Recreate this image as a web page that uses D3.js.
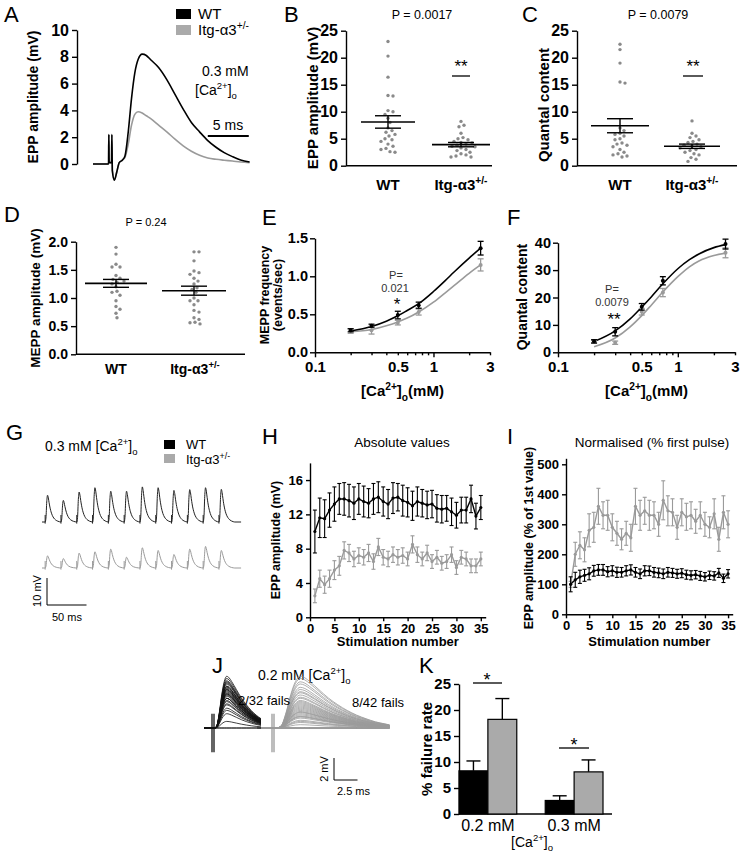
<!DOCTYPE html>
<html><head><meta charset="utf-8">
<script src="https://cdn.jsdelivr.net/npm/d3@7"></script>
<style>
body{margin:0;background:#fff}
svg{display:block}
text{font-family:"Liberation Sans",Arial,Helvetica,sans-serif}
</style></head>
<body><svg id="c" width="741" height="855"></svg>
<script>
// ================= DATA =================
const GROUPS = ["WT", "Itg-α3+/-"];
// A: example EPP traces (time ms, mV)
const A_WT_T = [0,1.9,1.93,1.97,2.26,2.3,2.36,2.6,2.9,3.2,3.6,3.9,4.3,4.7,5.1,5.5,6.0,6.5,7,8,9,10,11,12,13,14,15,16,17,18,19.1];
const A_WT_V = [0,0,2.2,0.1,0.1,2.2,-0.5,-1.2,-0.6,0.1,0.3,0.6,2.4,4.9,6.8,7.8,8.2,8.1,7.8,7.2,6.3,5.2,4.1,3.1,2.4,1.75,1.25,0.85,0.55,0.3,0.15];
const A_KO_T = [0,1.9,1.93,1.97,2.26,2.3,2.36,2.6,2.9,3.2,3.6,3.9,4.3,4.7,5.1,5.5,6.0,6.5,7,8,9,10,11,12,13,14,15,16,17,18,19.1];
const A_KO_V = [0,0,2.2,0.1,0.1,2.2,-0.5,-1.2,-0.6,0.1,0.3,0.5,1.5,2.9,3.7,3.9,3.8,3.6,3.4,2.9,2.4,1.85,1.35,0.95,0.65,0.45,0.35,0.28,0.22,0.15,0.1];
const A_TICKS = [0,2,4,6,8,10];
// B: EPP amplitude (mV)
const B_WT = [23.0,20.3,16.4,13.0,12.9,10.2,10.0,9.5,8.8,8.0,7.0,6.5,6.2,5.8,5.5,5.0,4.8,4.5,4.0,3.6,3.2,3.0,2.6,2.5];
const B_KO = [8.2,7.5,7.2,6.0,5.2,5.0,4.8,4.5,4.3,4.2,4.0,3.8,3.6,3.5,3.3,3.0,2.8,2.5,2.2,2.0,1.8,1.6,1.6];
const B_MEAN = [8.1,3.9], B_SEM = [1.15,0.4];
const BC_TICKS = [0,5,10,15,20,25];
// C: quantal content
const C_WT = [22.5,21.5,19.0,15.5,15.3,7.0,6.5,6.0,5.8,5.5,5.0,4.8,4.2,4.0,3.8,3.5,3.0,2.5,2.2,2.0,1.8,1.6];
const C_KO = [8.3,6.0,5.5,5.2,4.8,4.5,4.3,4.0,3.8,3.6,3.5,3.3,3.0,2.8,2.5,2.2,2.0,1.5,1.2,0.8];
const C_MEAN = [7.4,3.6], C_SEM = [1.3,0.4];
// D: MEPP amplitude (mV)
const D_WT = [1.9,1.78,1.6,1.55,1.55,1.4,1.35,1.33,1.3,1.28,1.25,1.2,1.12,1.1,1.05,0.95,0.85,0.8,0.73,0.65];
const D_KO = [1.82,1.82,1.66,1.48,1.45,1.42,1.35,1.3,1.25,1.18,1.15,1.1,1.0,0.95,0.95,0.88,0.78,0.75,0.65,0.62,0.57,0.56,0.54];
const D_MEAN = [1.26,1.13], D_SEM = [0.07,0.08];
const D_TICKS = [0,0.5,1,1.5,2];
// E/F: calcium dependence
const CA = [0.2,0.3,0.5,0.75,2.5];
const E_WT = [0.29,0.35,0.49,0.62,1.37], E_WT_ERR = [0.02,0.02,0.05,0.04,0.09];
const E_KO = [0.28,0.29,0.39,0.53,1.15], E_KO_ERR = [0.03,0.05,0.03,0.04,0.08];
const FIT_CA = [0.2,0.3,0.4,0.5,0.6,0.75,1.0,1.25,1.5,2.0,2.5];
const E_FIT_WT = [0.28,0.34,0.41,0.48,0.55,0.64,0.80,0.94,1.06,1.24,1.37];
const E_FIT_KO = [0.27,0.30,0.35,0.40,0.45,0.53,0.66,0.78,0.88,1.04,1.15];
const F_WT = [4.0,7.5,16.6,26.1,39.5], F_WT_ERR = [0.6,1.5,1.2,1.5,1.8];
const F_KO = [3.8,3.5,14.8,21.8,36.3], F_KO_ERR = [0.5,0.6,1.2,1.5,1.8];
const F_FIT_WT = [3.9,7.8,12.2,16.5,20.2,25.0,30.5,33.8,35.9,38.2,39.3];
const F_FIT_KO = [2.0,5.2,9.3,13.4,17.2,22.0,27.6,31.2,33.3,35.3,36.2];
const LOG_MAJOR = [0.1,0.5,1,3], LOG_MINOR = [0.2,0.3,0.4,0.6,0.7,0.8,0.9,2];
// G: trains (mV per pulse) + EPP shape
const G_WT_AMP = [9.9,8.0,11.1,12.7,11.4,11.4,13.0,12.7,11.7,12.0,12.7,12.1];
const G_KO_AMP = [4.5,3.5,5.5,6.0,7.0,4.0,7.5,6.5,5.0,7.0,8.0,6.5];
const G_SHAPE_T = [0,1,2,3,4,5,6,7,8,9,10,12,14,16,18,20];
const G_SHAPE_V = [0,0.15,0.75,1.0,0.9,0.72,0.56,0.43,0.33,0.25,0.19,0.11,0.06,0.03,0.01,0];
// H/I: 35 pulses
const STIM = d3.range(1,36);
const H_WT = [10.0,11.6,11.5,12.5,13.2,13.8,13.8,13.6,13.3,13.8,13.5,13.3,13.8,14.0,13.5,13.2,13.9,14.0,13.6,13.4,13.0,13.5,13.3,13.1,13.2,12.7,12.6,12.7,12.3,11.9,12.5,12.5,13.8,11.8,12.8];
const H_WT_ERR = [2.5,2.3,2.2,2.0,2.0,1.8,1.9,1.9,1.9,1.8,1.8,1.7,1.8,1.8,1.7,1.7,1.8,1.6,1.8,1.7,1.7,1.7,1.6,1.6,1.6,1.6,1.6,1.5,1.6,1.5,1.5,1.5,1.6,1.5,1.4];
const H_KO = [2.5,4.5,3.8,4.5,5.5,6.0,7.8,7.5,6.8,7.2,7.0,7.5,6.5,8.2,7.0,6.8,7.3,7.0,7.2,6.8,8.5,7.3,6.8,7.5,6.5,7.0,6.3,6.5,7.3,5.8,7.0,6.8,6.0,6.0,6.8];
const H_KO_ERR = [0.8,1.0,1.0,1.0,1.1,1.1,1.0,1.0,0.9,0.9,0.9,1.0,0.9,1.0,0.9,0.9,0.9,0.9,0.9,0.8,1.0,0.9,0.8,0.9,0.8,0.8,0.8,0.8,0.9,0.8,0.8,0.8,0.8,0.8,0.8];
const I_WT = [100,115,125,130,135,145,148,148,142,145,140,140,145,148,140,135,145,145,140,138,135,140,138,135,137,132,130,132,128,125,130,128,138,120,135];
const I_WT_ERR = [25,25,22,20,20,18,18,18,17,17,17,16,17,17,16,16,17,16,16,16,16,16,15,15,15,15,15,14,15,14,14,14,15,14,14];
const I_KO = [100,200,230,215,280,290,360,330,330,290,270,250,270,255,360,330,345,330,330,300,380,345,340,290,340,325,330,310,330,300,290,335,250,340,300];
const I_KO_ERR = [10,40,45,40,55,50,60,45,50,45,40,35,40,45,60,50,45,50,45,40,65,50,45,40,45,45,45,40,45,40,35,50,40,55,45];
const H_TICKS = [0,4,8,12,16], I_TICKS = [0,100,200,300,400,500], STIM_TICKS = [0,5,10,15,20,25,30,35];
// J: superimposed traces (mV)
const J_SHAPE_T = [-1.5,0,0.5,1.0,1.5,2.0,2.5,3.0,3.5,4,5,6,7,8,9,10,11,12,12.5];
const J_SHAPE_V = [0,0,0,0.05,0.3,0.65,0.9,1.0,0.97,0.9,0.74,0.58,0.45,0.34,0.25,0.18,0.12,0.08,0.06];
const J_WT_AMP = [0,0,0.6,1.3,1.6,1.8,2.1,2.2,2.4,2.5,2.7,2.7,2.7,2.9,3.0,3.1,3.1,3.2,3.3,3.4,3.5,3.5,3.6,3.7,3.8,3.8,4.0,4.1,4.2,4.3,4.5,4.7];
const J_KO_AMP = [0,0,0,0,0,0,0,0,0.3,0.5,0.6,0.7,0.9,1.0,1.05,1.1,1.2,1.3,1.4,1.45,1.5,1.6,1.7,1.8,1.9,2.0,2.1,2.2,2.3,2.4,2.5,2.7,2.8,3.0,3.2,3.3,3.5,3.7,4.0,4.2,4.5,4.7];
// K: failure rate
const K_CA = ["0.2 mM","0.3 mM"];
const K_WT = [8.3,2.6], K_WT_ERR = [1.9,0.9];
const K_KO = [18.2,8.1], K_KO_ERR = [4.0,2.3];
const K_TICKS = [0,5,10,15,20,25];

// ================= DRAWING =================
const BLACK = "#000", GREY = "#9a9a9a", GREY_FILL = "#aaaaaa", DOT = "#8a8a8a";
const svg = d3.select("#c");
svg.append("rect").attr("width",741).attr("height",855).attr("fill","#fff");

function rich(parent,x,y,parts,o={}){
  const size=o.size||13;
  const t=parent.append("text").attr("font-size",size).attr("font-weight",o.weight||"normal")
    .attr("text-anchor",o.anchor||"start").attr("fill",o.fill||"#000");
  if(o.rotate) t.attr("transform",`translate(${x},${y}) rotate(${o.rotate})`); else t.attr("x",x).attr("y",y);
  let cur=0;
  parts.forEach(p=>{
    const s=typeof p==="string"?p:p[0], k=(typeof p==="string"?"n":(p[1]||"n"));
    const off=k==="sup"?-size*0.4:k==="sub"?size*0.3:0;
    t.append("tspan").attr("dy",off-cur).attr("font-size",k==="n"?size:size*0.68).text(s);
    cur=off;
  });
  return t;
}
function txt(x,y,s,o={}){ return rich(svg,x,y,[s],o); }
const ITG = [["Itg-α3"],["+/-","sup"]];
const CAO = [["[Ca"],["2+","sup"],["]"],["o","sub"]];

function styleAxis(a,size){
  a.attr("font-family",null).attr("font-size",null);
  a.select(".domain").attr("stroke","#000").attr("stroke-width",1.4);
  a.selectAll(".tick line").attr("stroke","#000").attr("stroke-width",1.4);
  a.selectAll(".tick text").attr("font-size",size).attr("font-weight","bold").attr("fill","#000");
}
function yAxis(scale,x,ticks,fmt,size,len=5,pad=3){
  const a=svg.append("g").attr("transform",`translate(${x},0)`)
    .call(d3.axisLeft(scale).tickValues(ticks).tickFormat(fmt).tickSize(len).tickSizeOuter(0).tickPadding(pad));
  styleAxis(a,size); return a;
}
function xLine(x1,x2,y){ svg.append("line").attr("x1",x1).attr("x2",x2).attr("y1",y).attr("y2",y).attr("stroke","#000").attr("stroke-width",1.4); }
function seg(x1,y1,x2,y2,c="#000",w=1.4){ svg.append("line").attr("x1",x1).attr("y1",y1).attr("x2",x2).attr("y2",y2).attr("stroke",c).attr("stroke-width",w); }

// ---------- A ----------
txt(4,22,"A",{size:22});
const aY=d3.scaleLinear().domain([0,10]).range([164,30]);
const aX=d3.scaleLinear().domain([0,19.1]).range([93,249.6]);
yAxis(aY,77,A_TICKS,d3.format("d"),16);
txt(38,97,"EPP amplitude (mV)",{size:14,weight:"bold",anchor:"middle",rotate:-90});
const aLine=d3.line().x(d=>aX(d[0])).y(d=>aY(d[1])).curve(d3.curveMonotoneX);
svg.append("path").attr("d",aLine(d3.zip(A_KO_T,A_KO_V))).attr("fill","none").attr("stroke",GREY).attr("stroke-width",1.6);
svg.append("path").attr("d",aLine(d3.zip(A_WT_T,A_WT_V))).attr("fill","none").attr("stroke",BLACK).attr("stroke-width",1.6);
seg(aX(14),136,aX(19),136,"#000",2);
txt(228,130,"5 ms",{size:14,anchor:"middle"});
txt(202,76,"0.3 mM",{size:14});
rich(svg,195,95,CAO,{size:14});
svg.append("rect").attr("x",176).attr("y",9).attr("width",15).attr("height",10).attr("fill",BLACK);
svg.append("rect").attr("x",176).attr("y",25).attr("width",15).attr("height",10).attr("fill",GREY_FILL);
txt(198,19,GROUPS[0],{size:15});
rich(svg,198,35,ITG,{size:15});

// ---------- scatter helper ----------
function scatterPanel(yS,centers,vals,means,sems,half,cap){
  vals.forEach((arr,gi)=>{
    const pts=arr.map(v=>({v,y:yS(v)})).sort((a,b)=>a.y-b.y), placed=[], D=4.6;
    pts.forEach(p=>{
      for(let k=0;k<80;k++){
        const off=k===0?0:(k%2?1:-1)*Math.ceil(k/2)*1;
        const x=centers[gi]+off;
        if(placed.every(q=>(q.x-x)**2+(q.y-p.y)**2>=D*D)){p.x=x;break;}
      }
      placed.push(p);
    });
    svg.append("g").selectAll("circle").data(placed).join("circle")
      .attr("cx",d=>d.x).attr("cy",d=>d.y).attr("r",1.7).attr("fill",DOT);
    const c=centers[gi];
    seg(c-half[gi],yS(means[gi]),c+half[gi],yS(means[gi]),"#000",1.6);
    seg(c,yS(means[gi]-sems[gi]),c,yS(means[gi]+sems[gi]),"#000",1.4);
    seg(c-cap,yS(means[gi]-sems[gi]),c+cap,yS(means[gi]-sems[gi]),"#000",1.4);
    seg(c-cap,yS(means[gi]+sems[gi]),c+cap,yS(means[gi]+sems[gi]),"#000",1.4);
  });
}

// ---------- B ----------
txt(284,22,"B",{size:22});
const bY=d3.scaleLinear().domain([0,25]).range([165.7,30.7]);
yAxis(bY,346,BC_TICKS,d3.format("d"),16);
xLine(346,492,165.7);
scatterPanel(bY,[388,461],[B_WT,B_KO],B_MEAN,B_SEM,[27,29],13);
txt(388,190,GROUPS[0],{size:15,weight:"bold",anchor:"middle"});
rich(svg,461,190,ITG,{size:15,weight:"bold",anchor:"middle"});
txt(422,19,"P = 0.0017",{size:12.5,anchor:"middle"});
txt(461,72,"**",{size:17,anchor:"middle"});
seg(452,76,470,76,"#000",1.3);
txt(318,98,"EPP amplitude (mV)",{size:15,weight:"bold",anchor:"middle",rotate:-90});

// ---------- C ----------
txt(522,22,"C",{size:22});
const cY=d3.scaleLinear().domain([0,25]).range([165.7,30.7]);
yAxis(cY,577,BC_TICKS,d3.format("d"),16);
xLine(577,737,165.7);
scatterPanel(cY,[620,692],[C_WT,C_KO],C_MEAN,C_SEM,[29,28],13);
txt(620,190,GROUPS[0],{size:15,weight:"bold",anchor:"middle"});
rich(svg,692,190,ITG,{size:15,weight:"bold",anchor:"middle"});
txt(658,19,"P = 0.0079",{size:12.5,anchor:"middle"});
txt(693,72,"**",{size:17,anchor:"middle"});
seg(683,76,703,76,"#000",1.3);
txt(549,105,"Quantal content",{size:15,weight:"bold",anchor:"middle",rotate:-90});

// ---------- D ----------
txt(4,222,"D",{size:22});
const dY=d3.scaleLinear().domain([0,2]).range([354.3,241.7]);
yAxis(dY,76,D_TICKS,d3.format(".1f"),14);
xLine(76,245,354.3);
scatterPanel(dY,[116,194],[D_WT,D_KO],D_MEAN,D_SEM,[31,32],13);
txt(116,374,GROUPS[0],{size:14,weight:"bold",anchor:"middle"});
rich(svg,195,374,ITG,{size:14,weight:"bold",anchor:"middle"});
txt(146,226,"P = 0.24",{size:11,anchor:"middle"});
txt(40,298,"MEPP amplitude (mV)",{size:13.5,weight:"bold",anchor:"middle",rotate:-90});

// ---------- E / F helper ----------
function caPanel(o){
  const yS=d3.scaleLinear().domain(o.ydom).range(o.yr);
  const xS=d3.scaleLog().domain([0.1,3]).range(o.xr);
  yAxis(yS,o.xr[0],o.yticks,o.yfmt,14.5,5,2);
  const all=LOG_MAJOR.concat(LOG_MINOR).sort((a,b)=>a-b);
  const ax=svg.append("g").attr("transform",`translate(0,${o.yr[0]})`)
    .call(d3.axisBottom(xS).tickValues(all).tickFormat(d=>LOG_MAJOR.includes(d)?String(d):"").tickSize(5).tickSizeOuter(0).tickPadding(4));
  styleAxis(ax,15);
  ax.selectAll(".tick line").attr("y2",d=>(d===0.1||d===1)?5:3);
  const ln=d3.line().x(d=>xS(d[0])).y(d=>yS(d[1])).curve(d3.curveMonotoneX);
  [[o.fitKO,GREY],[o.fitWT,BLACK]].forEach(([f,c])=>{
    svg.append("path").attr("d",ln(d3.zip(FIT_CA,f))).attr("fill","none").attr("stroke",c).attr("stroke-width",1.6);
  });
  [[o.ko,o.koErr,GREY],[o.wt,o.wtErr,BLACK]].forEach(([v,e,c])=>{
    CA.forEach((ca,i)=>{
      const x=xS(ca);
      seg(x,yS(v[i]-e[i]),x,yS(v[i]+e[i]),c,1.3);
      seg(x-3,yS(v[i]-e[i]),x+3,yS(v[i]-e[i]),c,1.3);
      seg(x-3,yS(v[i]+e[i]),x+3,yS(v[i]+e[i]),c,1.3);
      svg.append("circle").attr("cx",x).attr("cy",yS(v[i])).attr("r",2).attr("fill",c);
    });
  });
  rich(svg,(o.xr[0]+o.xr[1])/2,396,CAO.concat([["(mM)"]]),{size:15,weight:"bold",anchor:"middle"});
  return {xS,yS};
}
// ---------- E ----------
txt(262,225,"E",{size:22});
caPanel({ydom:[0,1.5],yr:[352.3,238.3],xr:[315,490],yticks:[0,0.5,1,1.5],yfmt:d3.format(".1f"),
  wt:E_WT,wtErr:E_WT_ERR,ko:E_KO,koErr:E_KO_ERR,fitWT:E_FIT_WT,fitKO:E_FIT_KO});
txt(269,295,"MEPP frequency",{size:12.5,weight:"bold",anchor:"middle",rotate:-90});
txt(282,295,"(events/sec)",{size:12.5,weight:"bold",anchor:"middle",rotate:-90});
txt(396,279,"P=",{size:11,anchor:"middle",fill:"#333"});
txt(395,292,"0.021",{size:11,anchor:"middle",fill:"#333"});
txt(397,310,"*",{size:17,anchor:"middle"});
// ---------- F ----------
txt(507,225,"F",{size:22});
caPanel({ydom:[0,40],yr:[352.3,242.7],xr:[558,735],yticks:[0,10,20,30,40],yfmt:d3.format("d"),
  wt:F_WT,wtErr:F_WT_ERR,ko:F_KO,koErr:F_KO_ERR,fitWT:F_FIT_WT,fitKO:F_FIT_KO});
txt(527,297,"Quantal content",{size:14,weight:"bold",anchor:"middle",rotate:-90});
txt(612,293,"P=",{size:11,anchor:"middle",fill:"#333"});
txt(612,306,"0.0079",{size:11,anchor:"middle",fill:"#333"});
txt(614,325,"**",{size:17,anchor:"middle"});

// ---------- G ----------
txt(6,440,"G",{size:22});
rich(svg,45,451,[["0.3 mM "]].concat(CAO),{size:14});
svg.append("rect").attr("x",164).attr("y",440).attr("width",11).attr("height",9).attr("fill",BLACK);
svg.append("rect").attr("x",164).attr("y",454).attr("width",11).attr("height",9).attr("fill",GREY_FILL);
txt(186,449,GROUPS[0],{size:13});
rich(svg,186,464,ITG,{size:13});
const gX=d3.scaleLinear().domain([0,252]).range([42,42+252*0.79]);
function gTrace(amps,base,color){
  const gY=d3.scaleLinear().domain([0,10]).range([base,base-27]);
  const pts=[[0,0]];
  amps.forEach((a,i)=>{const s=4+20*i; G_SHAPE_T.forEach((t,k)=>{ if(k>0||i===0) pts.push([s+t,a*G_SHAPE_V[k]]); });});
  pts.push([252,0]);
  svg.append("path").attr("d",d3.line().x(d=>gX(d[0])).y(d=>gY(d[1])).curve(d3.curveMonotoneX)(pts))
    .attr("fill","none").attr("stroke",color).attr("stroke-width",1);
  amps.forEach((a,i)=>{const x=gX(4+20*i); seg(x,gY(-0.6),x,gY(2.6),color,1);});
  return gY;
}
gTrace(G_WT_AMP,522,"#222");
gTrace(G_KO_AMP,568,GREY);
seg(47,578,47,605,"#000",1); seg(47,605,47+50*0.79,605,"#000",1);
txt(41,591,"10 mV",{size:11,anchor:"middle",rotate:-90});
txt(52,621,"50 ms",{size:11});

// ---------- H / I helper ----------
function trainPanel(o){
  const yS=d3.scaleLinear().domain(o.ydom).range(o.yr);
  const xS=d3.scaleLinear().domain([0,36]).range(o.xr);
  yAxis(yS,o.xr[0],o.yticks,d3.format("d"),13,4);
  const ax=svg.append("g").attr("transform",`translate(0,${o.yr[0]})`)
    .call(d3.axisBottom(xS).tickValues(STIM_TICKS).tickSize(4).tickSizeOuter(0).tickPadding(2));
  styleAxis(ax,13);
  const ln=d3.line().x((d,i)=>xS(STIM[i])).y(d=>yS(d));
  o.series.forEach(([v,e,c])=>{
    svg.append("path").attr("d",ln(v)).attr("fill","none").attr("stroke",c).attr("stroke-width",1.4);
    v.forEach((val,i)=>{
      const x=xS(STIM[i]);
      seg(x,yS(val-e[i]),x,yS(val+e[i]),c,1.1);
      seg(x-2,yS(val-e[i]),x+2,yS(val-e[i]),c,1.1);
      seg(x-2,yS(val+e[i]),x+2,yS(val+e[i]),c,1.1);
      svg.append("circle").attr("cx",x).attr("cy",yS(val)).attr("r",1.6).attr("fill",c);
    });
  });
  txt((o.xr[0]+o.xr[1])/2,646,"Stimulation number",{size:13,weight:"bold",anchor:"middle"});
}
txt(262,444,"H",{size:22});
txt(402,447,"Absolute values",{size:13.5,anchor:"middle"});
trainPanel({ydom:[0,18],yr:[617.3,462.9],xr:[310,485.7],yticks:H_TICKS,
  series:[[H_KO,H_KO_ERR,GREY],[H_WT,H_WT_ERR,BLACK]]});
txt(280,540,"EPP amplitude (mV)",{size:12.5,weight:"bold",anchor:"middle",rotate:-90});
txt(507,444,"I",{size:22});
txt(652,447,"Normalised (% first pulse)",{size:13.5,anchor:"middle"});
trainPanel({ydom:[0,520],yr:[614.3,458.3],xr:[566,732.7],yticks:I_TICKS,
  series:[[I_KO,I_KO_ERR,GREY],[I_WT,I_WT_ERR,BLACK]]});
txt(533,538,"EPP amplitude (% of 1st value)",{size:12.5,weight:"bold",anchor:"middle",rotate:-90});

// ---------- J ----------
const J_BASE = 728;
txt(212,673,"J",{size:22});
rich(svg,258,680,[["0.2 mM "]].concat(CAO),{size:14});
function jGroup(amps,xStim,pxPerMs,tEnd,color){
  const xS=d3.scaleLinear().domain([0,1]).range([xStim,xStim+pxPerMs]);
  const yS=d3.scaleLinear().domain([0,1]).range([J_BASE,J_BASE-11]);
  const ln=d3.line().x(d=>xS(d[0])).y(d=>yS(d[1])).curve(d3.curveMonotoneX);
  amps.forEach(a=>{
    const pts=J_SHAPE_T.map((t,k)=>[t,a*J_SHAPE_V[k]]).filter(d=>d[0]<=tEnd);
    svg.append("path").attr("d",ln(pts)).attr("fill","none").attr("stroke",color).attr("stroke-width",0.8);
  });
  seg(xS(0),yS(1.3),xS(0),yS(-2.2),color,1.3);
  seg(xS(0)+2,yS(1.3),xS(0)+2,yS(-2.2),color,1.3);
}
jGroup(J_KO_AMP,272,9.4,12.5,GREY);
jGroup(J_WT_AMP,212,4.9,10.7,"#111");
txt(238,705,"2/32 fails",{size:13});
txt(352,707,"8/42 fails",{size:13});
seg(334,758,334,780,"#000",1); seg(334,780,334+2.5*9.4,780,"#000",1);
txt(328,769,"2 mV",{size:11,anchor:"middle",rotate:-90});
txt(337,795,"2.5 ms",{size:11});

// ---------- K ----------
txt(419,673,"K",{size:22});
const kY=d3.scaleLinear().domain([0,25]).range([814,684]);
const kX=d3.scaleBand().domain(K_CA).range([459,603]).paddingInner(0.33).paddingOuter(0);
const kSub=d3.scaleBand().domain(["WT","KO"]).range([0,kX.bandwidth()]);
yAxis(kY,459,K_TICKS,d3.format("d"),15);
xLine(459,612,814);
K_CA.forEach((ca,i)=>{
  [["WT",K_WT,K_WT_ERR,BLACK],["KO",K_KO,K_KO_ERR,GREY_FILL]].forEach(([k,v,e,c])=>{
    const x=kX(ca)+kSub(k), w=kSub.bandwidth(), cx=x+w/2;
    seg(cx,kY(v[i]),cx,kY(v[i]+e[i]),"#000",1.4);
    seg(cx-7,kY(v[i]+e[i]),cx+7,kY(v[i]+e[i]),"#000",1.4);
    svg.append("rect").attr("x",x).attr("y",kY(v[i])).attr("width",w).attr("height",kY(0)-kY(v[i]))
      .attr("fill",c).attr("stroke","#000").attr("stroke-width",1.2);
  });
  txt(kX(ca)+kX.bandwidth()/2,831,ca,{size:16,anchor:"middle"});
});
seg(473,683,502,683,"#000",1.3); txt(487,686,"*",{size:18,anchor:"middle"});
seg(559,748,589,748,"#000",1.3); txt(574,751,"*",{size:18,anchor:"middle"});
rich(svg,532,847,CAO,{size:14,anchor:"middle"});
txt(432,749,"% failure rate",{size:15,weight:"bold",anchor:"middle",rotate:-90});
</script></body></html>
